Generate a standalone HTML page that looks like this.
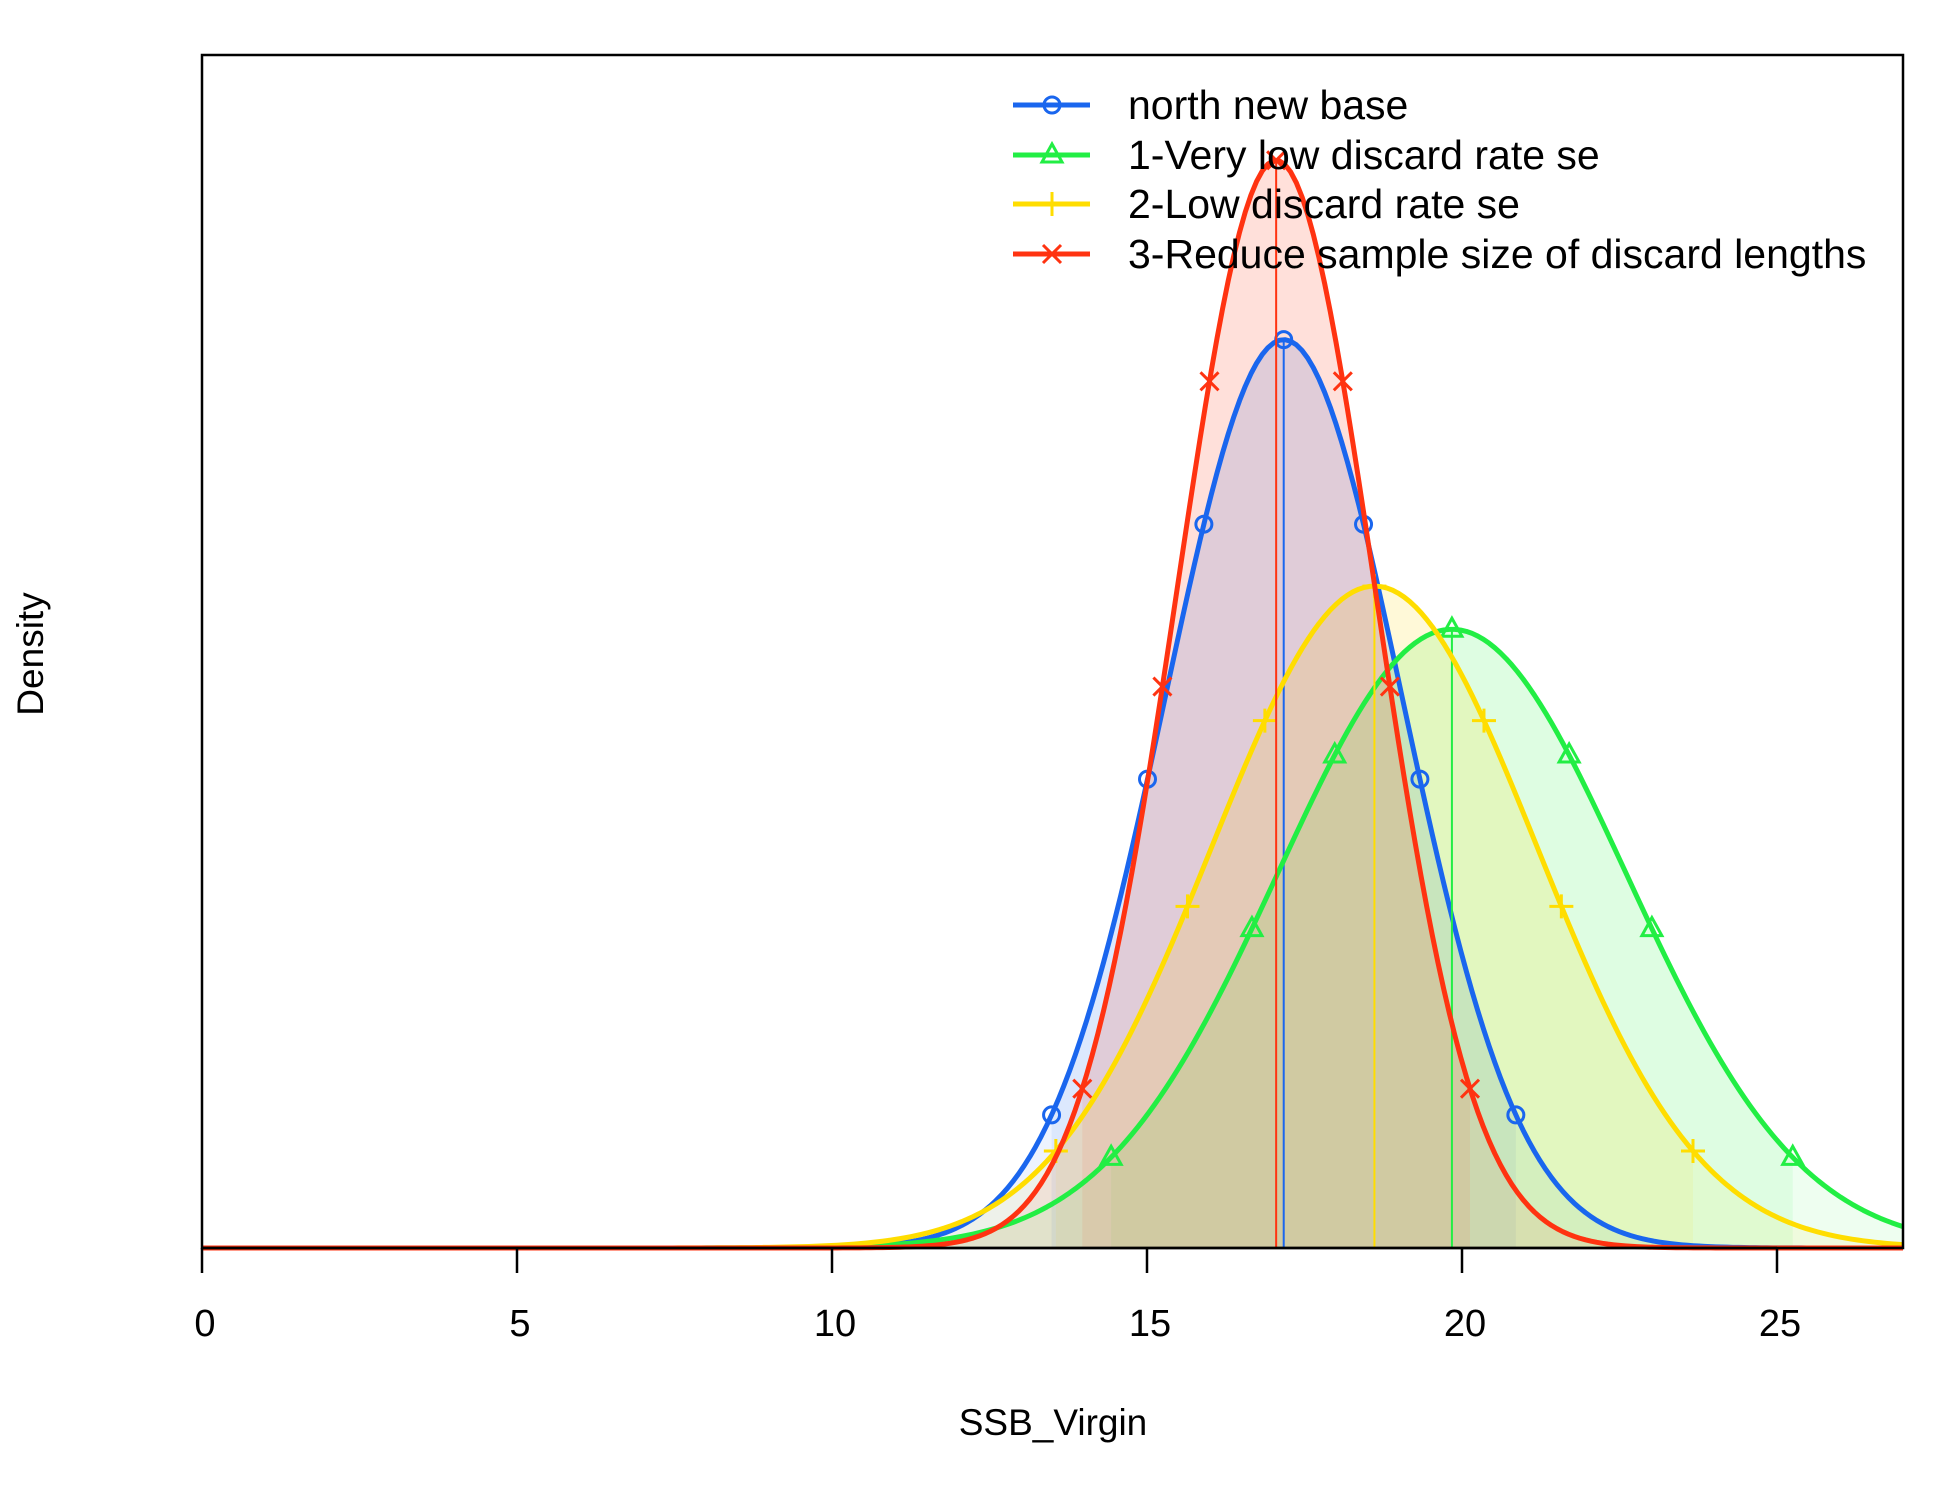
<!DOCTYPE html>
<html><head><meta charset="utf-8"><style>
html,body{margin:0;padding:0;background:#fff;}
svg{display:block;font-family:"Liberation Sans",Arial,sans-serif;}
</style></head><body>
<svg id="chart" width="1950" height="1500" viewBox="0 0 1950 1500">
<rect x="0" y="0" width="1950" height="1500" fill="#fff"/>
<g id="fills"></g>
<g id="lines"></g>
<g id="axis"></g>
<rect x="202" y="55" width="1701" height="1193" fill="none" stroke="#000" stroke-width="2.5"/>
<text x="1053" y="1435" text-anchor="middle" font-size="37">SSB_Virgin</text>
<text transform="translate(43,654) rotate(-90)" text-anchor="middle" font-size="37">Density</text>
<g id="legend"></g>
</svg>
<script>
const seriesNames = ["north new base","1-Very low discard rate se","2-Low discard rate se","3-Reduce sample size of discard lengths"];
const seriesMeans = [17.17, 19.84, 18.61, 17.05];
const seriesSds = [1.88, 2.76, 2.58, 1.57];
const seriesColors = ["#1a66ee","#22ee44","#ffdd00","#ff3311"];
const seriesMarkers = ["circle","triangle","plus","cross"];
const markerQuantileZ = [-1.96,-1.15,-0.674,0,0.674,1.15,1.96];
const xTicks = [0,5,10,15,20,25];
const drawOrder = [0,1,2,3];

const X0=202,X1=1903,Y0=55,Y1=1248, XMAX=27, YMAX=0.2787;
const sx=v=>X0+(v/XMAX)*(X1-X0);
const sy=v=>Y1-(v/YMAX)*(Y1-Y0);
const pdf=(x,m,s)=>Math.exp(-0.5*((x-m)/s)**2)/(s*Math.sqrt(2*Math.PI));
const NS="http://www.w3.org/2000/svg";
const mk=(tag,attrs,parent)=>{const e=document.createElementNS(NS,tag);for(const k in attrs)e.setAttribute(k,attrs[k]);parent.appendChild(e);return e;};
const fills=document.getElementById('fills'),lines=document.getElementById('lines'),axis=document.getElementById('axis'),legend=document.getElementById('legend');

function curve(m,s,a,b){let p=[];const n=300;for(let i=0;i<=n;i++){const x=a+(b-a)*i/n;p.push([sx(x),sy(pdf(x,m,s))]);}return p;}
function marker(type,cx,cy,col,parent,name){
  let e;const r=8;
  if(type==="circle")e=mk('circle',{cx,cy,r,fill:'none',stroke:col,'stroke-width':3},parent);
  else if(type==="triangle")e=mk('polygon',{points:`${cx},${cy-11} ${cx-10},${cy+7} ${cx+10},${cy+7}`,fill:'none',stroke:col,'stroke-width':3},parent);
  else if(type==="plus")e=mk('path',{d:`M${cx-12},${cy}H${cx+12}M${cx},${cy-12}V${cy+12}`,stroke:col,'stroke-width':3},parent);
  else e=mk('path',{d:`M${cx-9},${cy-9}L${cx+9},${cy+9}M${cx-9},${cy+9}L${cx+9},${cy-9}`,stroke:col,'stroke-width':3},parent);
  
  
}
drawOrder.forEach(i=>{
  const m=seriesMeans[i],s=seriesSds[i],c=seriesColors[i];
  const all=curve(m,s,0,XMAX);
  const f1=mk('path',{d:'M'+sx(0)+','+Y1+'L'+all.map(p=>p.join(',')).join('L')+'L'+sx(XMAX)+','+Y1+'Z',fill:c,'fill-opacity':0.08},fills);
  
  
  const a=Math.max(0,m-1.96*s),b=Math.min(XMAX,m+1.96*s);
  const ci=curve(m,s,a,b);
  const f2=mk('path',{d:'M'+sx(a)+','+Y1+'L'+ci.map(p=>p.join(',')).join('L')+'L'+sx(b)+','+Y1+'Z',fill:c,'fill-opacity':0.08},fills);
  
  
});
drawOrder.forEach(i=>{
  const m=seriesMeans[i],s=seriesSds[i],c=seriesColors[i];
  const vl=mk('line',{x1:sx(m),x2:sx(m),y1:Y1,y2:sy(pdf(m,m,s)),stroke:c,'stroke-width':2},lines);
  
  
  const all=curve(m,s,0,XMAX);
  const pl=mk('polyline',{points:all.map(p=>p.join(',')).join(' '),fill:'none',stroke:c,'stroke-width':5,'stroke-linejoin':'round'},lines);
  
  
  markerQuantileZ.forEach(z=>{const x=m+z*s;if(x<=XMAX)marker(seriesMarkers[i],sx(x),sy(pdf(x,m,s)),c,lines,'point-marker');});
});
mk('line',{x1:sx(0),x2:sx(25),y1:Y1,y2:Y1,stroke:'#000','stroke-width':2.5},axis);
xTicks.forEach(t=>{
  const tl=mk('line',{x1:sx(t),x2:sx(t),y1:Y1,y2:Y1+25,stroke:'#000','stroke-width':2.5},axis);
  
  
  const tx=mk('text',{x:sx(t)+3,y:1336,'text-anchor':'middle','font-size':38},axis);
  tx.textContent=t;
  
  
});
const legY=[105,155,204,254];
seriesNames.forEach((n,i)=>{
  const ln=mk('line',{x1:1013,x2:1090,y1:legY[i],y2:legY[i],stroke:seriesColors[i],'stroke-width':5},legend);
  
  
  marker(seriesMarkers[i],1052,legY[i],seriesColors[i],legend,'legend-marker');
  const t=mk('text',{x:1128,y:legY[i]+14,'font-size':41},legend);
  t.textContent=n;
  
  
});
</script>
</body></html>
